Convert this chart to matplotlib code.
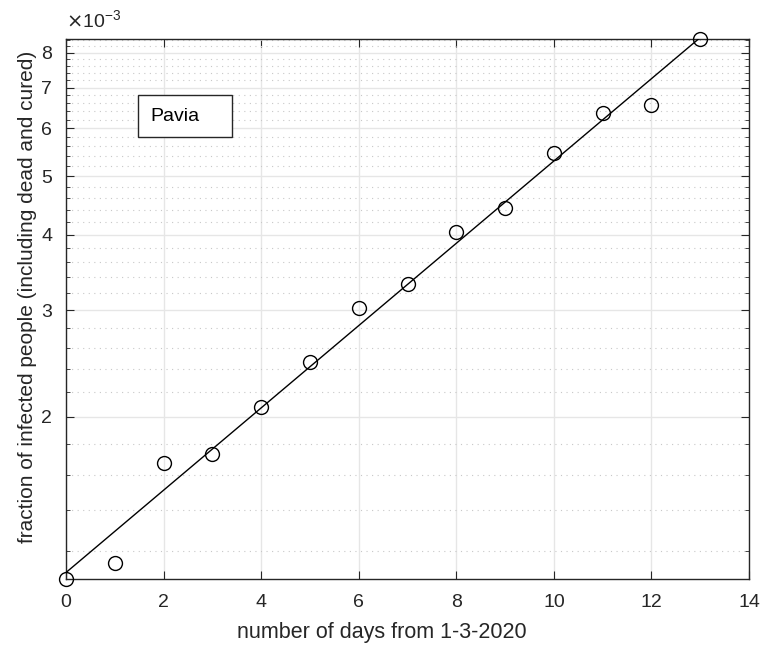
import numpy as np
import matplotlib
matplotlib.use('Agg')
import matplotlib.pyplot as plt
from matplotlib.patches import Rectangle
from matplotlib.ticker import FixedLocator, NullFormatter

plt.rcParams['font.family'] = ['Liberation Sans', 'DejaVu Sans']

# days from 1-3-2020 and fraction of infected people (x 1e-3)
days = [0, 1, 2, 3, 4, 5, 6, 7, 8, 9, 10, 11, 12, 13]
fraction = [1.077, 1.145, 1.678, 1.731, 2.071, 2.461, 3.025, 3.314,
            4.046, 4.42, 5.47, 6.36, 6.55, 8.43]
major_yticks = [2, 3, 4, 5, 6, 7, 8]
xticks = [0, 2, 4, 6, 8, 10, 12, 14]

x = np.array(days, dtype=float)
y = np.array(fraction) * 1e-3

# exponential fit
p = np.polyfit(x, np.log(y), 1)
yfit = np.exp(np.polyval(p, x))

fig = plt.figure(figsize=(7.63, 6.48), dpi=100)
ax = fig.add_axes([0.0865, 0.1065, 0.8952, 0.8333])

ax.plot(x, yfit, color='black', lw=1.0, zorder=3)
ax.plot(x, y, 'o', mfc='none', mec='black', ms=10, mew=1.0,
        clip_on=False, zorder=4)

ax.set_yscale('log')
ax.set_xlim(0, 14)
ax.set_ylim(y.min(), y.max())

ax.xaxis.set_major_locator(FixedLocator(xticks))
ax.set_xticklabels([str(t) for t in xticks])
ax.yaxis.set_major_locator(FixedLocator([v * 1e-3 for v in major_yticks]))
ax.set_yticklabels([str(v) for v in major_yticks])
minor = [v * 1e-3 for v in np.arange(1.2, 8.6, 0.2)
         if abs(v - round(v)) > 1e-6]
ax.yaxis.set_minor_locator(FixedLocator(minor))
ax.yaxis.set_minor_formatter(NullFormatter())
ax.xaxis.set_minor_locator(FixedLocator([]))

ax.grid(True, which='major', color='#e6e6e6', lw=1.0)
ax.grid(True, which='minor', axis='y', color='#c8c8c8', lw=0.8,
        linestyle=(0, (1, 4)))
ax.set_axisbelow(True)

edge = '#262626'
for s in ax.spines.values():
    s.set_color(edge)
    s.set_linewidth(1.0)
ax.tick_params(which='both', direction='in', top=True, right=True,
               color=edge, labelcolor=edge, labelsize=14)
ax.tick_params(which='major', length=6)
ax.tick_params(which='minor', length=3)
ax.tick_params(axis='x', which='major', pad=11)
ax.tick_params(axis='y', which='major', pad=10)

ax.set_xlabel('number of days from 1-3-2020', fontsize=15.5, color=edge)
ax.set_ylabel('fraction of infected people (including dead and cured)',
              fontsize=15, color=edge)
ax.xaxis.set_label_coords(0.463, -0.08)
ax.yaxis.set_label_coords(-0.043, 0.522)

ax.text(0.0, 1.012, r'$\times$10$^{\mathregular{-3}}$', transform=ax.transAxes,
        fontsize=14, color=edge, va='bottom', ha='left')

ax.add_patch(Rectangle((0.1054, 0.8185), 0.1376, 0.0775, transform=ax.transAxes,
                       fc='white', ec=edge, lw=1.0, zorder=5))
ax.text(0.123, 0.857, 'Pavia', transform=ax.transAxes, fontsize=14,
        va='center', ha='left', color='black', zorder=6)

fig.savefig('out.png', dpi=100)
